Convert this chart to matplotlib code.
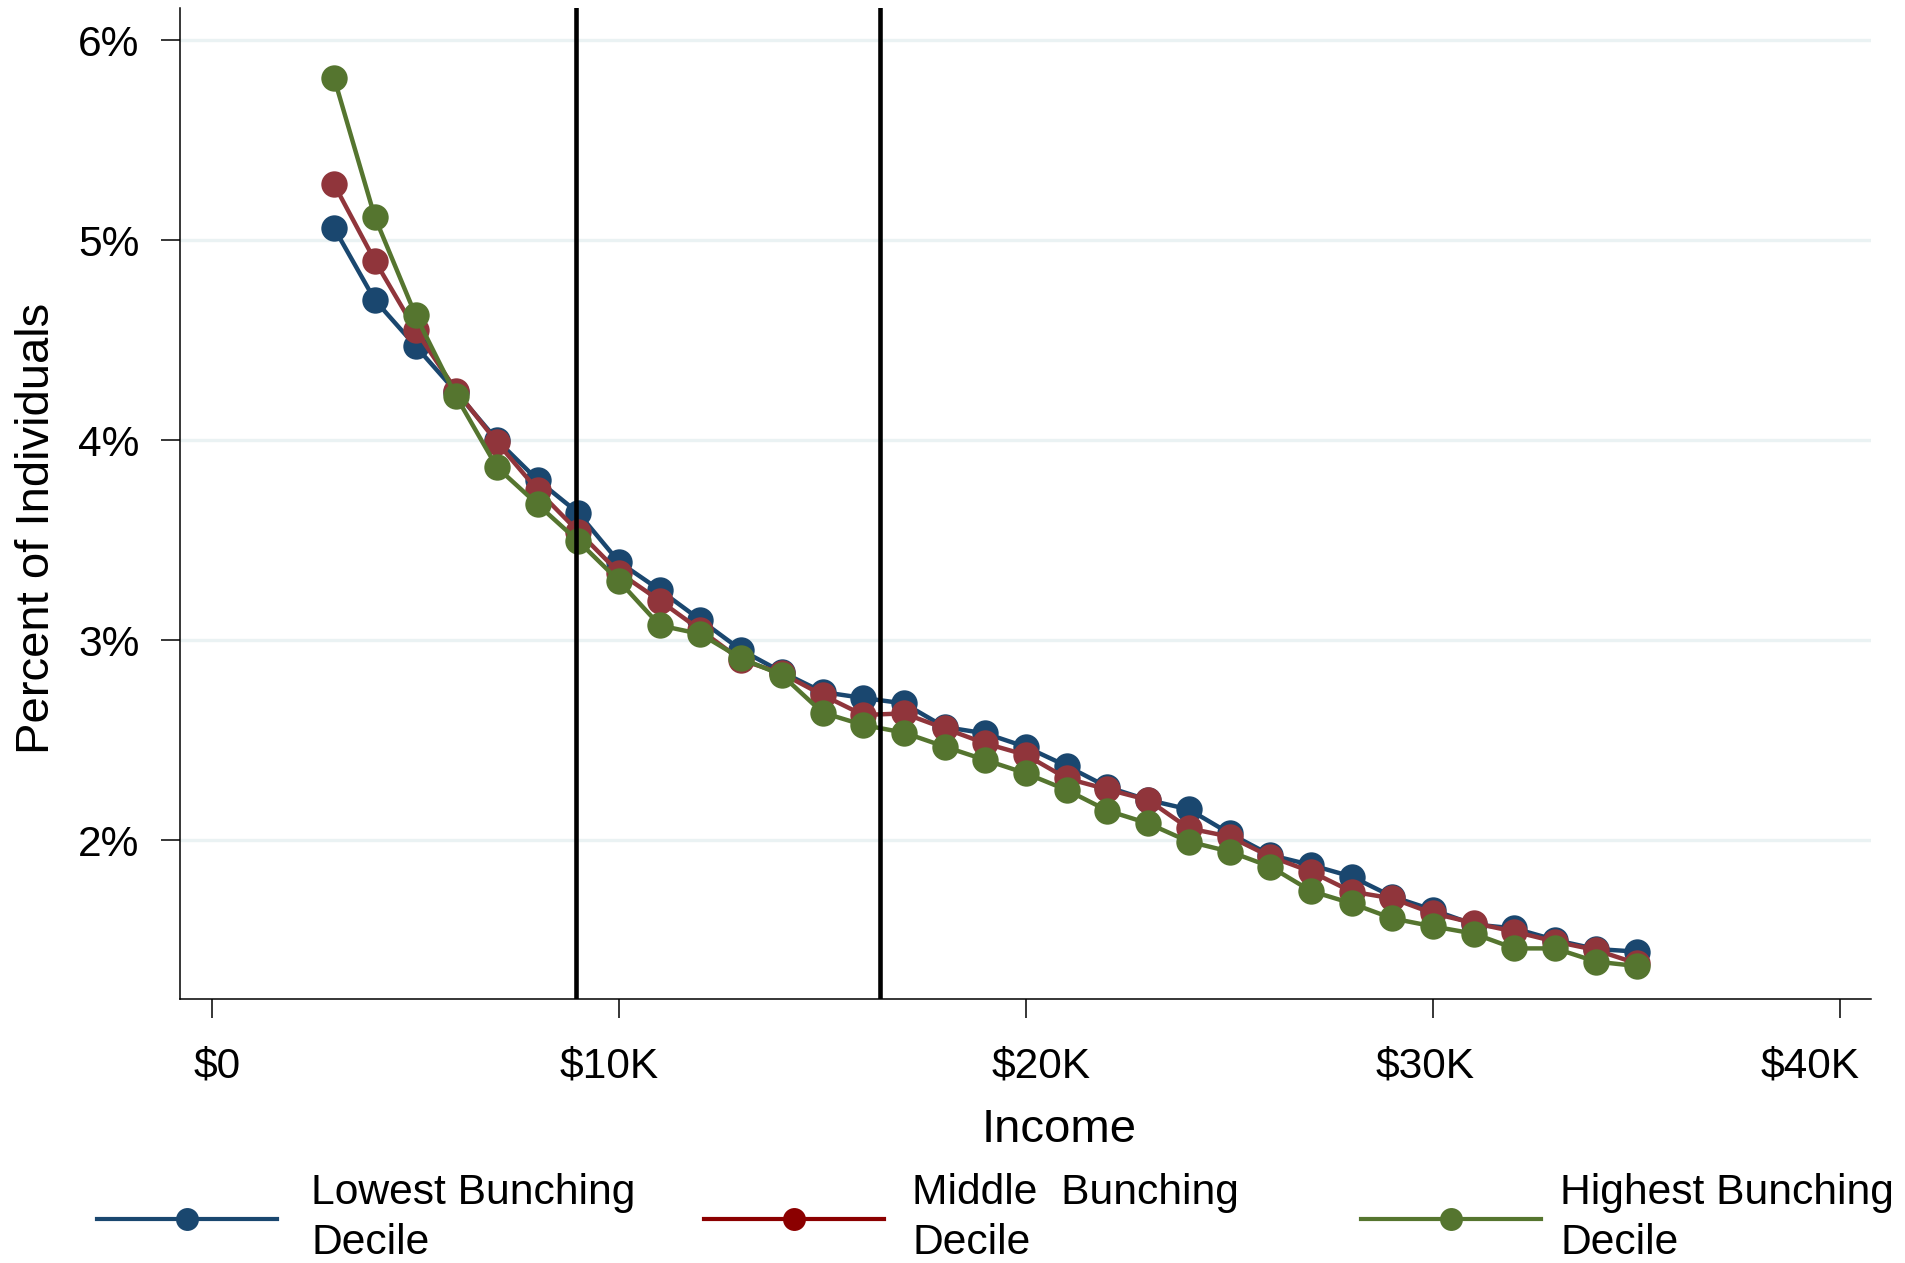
import matplotlib
matplotlib.use("Agg")
import matplotlib.pyplot as plt
from matplotlib.ticker import FuncFormatter
from matplotlib.lines import Line2D
from matplotlib.transforms import ScaledTranslation

plt.rcParams['font.family'] = ['Liberation Sans', 'DejaVu Sans']

# Income bins (dollars)
income = [3000, 4000, 5000, 6000, 7000, 8000, 9000, 10000, 11000, 12000, 13000,
          14000, 15000, 16000, 17000, 18000, 19000, 20000, 21000, 22000, 23000,
          24000, 25000, 26000, 27000, 28000, 29000, 30000, 31000, 32000, 33000,
          34000, 35000]

# Percent of individuals in each income bin, by bunching decile
lowest = [5.06, 4.70, 4.47, 4.24, 4.00, 3.80, 3.635, 3.39, 3.25, 3.10, 2.95,
          2.84, 2.74, 2.71, 2.683, 2.565, 2.533, 2.465, 2.37, 2.265, 2.20,
          2.153, 2.033, 1.925, 1.875, 1.817, 1.717, 1.65, 1.578, 1.558, 1.50,
          1.455, 1.442]
middle = [5.278, 4.897, 4.55, 4.247, 3.989, 3.749, 3.542, 3.337, 3.197, 3.05, 2.90,
          2.833, 2.725, 2.625, 2.633, 2.558, 2.483, 2.425, 2.308, 2.253, 2.20,
          2.058, 2.017, 1.917, 1.842, 1.742, 1.708, 1.633, 1.585, 1.542, 1.492,
          1.45, 1.383]
highest = [5.81, 5.115, 4.625, 4.218, 3.864, 3.678, 3.494, 3.295, 3.073, 3.03, 2.908,
           2.825, 2.637, 2.575, 2.537, 2.467, 2.40, 2.333, 2.25, 2.147, 2.083,
           1.992, 1.942, 1.867, 1.745, 1.683, 1.608, 1.568, 1.532, 1.458, 1.458,
           1.392, 1.37]

series_labels = ["Lowest Bunching\nDecile", "Middle  Bunching\nDecile",
                 "Highest Bunching\nDecile"]
series_colors = ["#1a476f", "#90353b", "#55752f"]
key_colors = ["#1a476f", "#8b0000", "#55752f"]

# EITC schedule kinks (plateau start, phase-out start)
kinks = [8950, 16420]

x_ticks = [0, 10000, 20000, 30000, 40000]
y_ticks = [2, 3, 4, 5, 6]

W, H = 1905, 1263
fig = plt.figure(figsize=(W / 100, H / 100), dpi=100)
ax = fig.add_axes([180 / W, 1 - 999 / H, (1871 - 180) / W, (999 - 8) / H])

for ys, col in zip([lowest, middle, highest], series_colors):
    ax.plot(income, ys, color=col, lw=3.2, marker='o', markersize=19,
            markeredgewidth=0, zorder=3)

for k in kinks:
    ax.axvline(k, color='black', lw=3.3, zorder=5)

ax.set_xlim(-786, 40760)
ax.set_ylim(1.205, 6.16)

ax.set_xticks(x_ticks)
ax.set_yticks(y_ticks)
ax.xaxis.set_major_formatter(FuncFormatter(
    lambda v, p: "$0" if v == 0 else "${:d}K".format(int(round(v / 1000)))))
ax.yaxis.set_major_formatter(FuncFormatter(lambda v, p: "{:d}%".format(int(round(v)))))

ax.tick_params(axis='both', labelsize=30.6, length=14, width=1.1, color='black',
               direction='out')
ax.tick_params(axis='x', pad=20)
ax.tick_params(axis='y', pad=15)

# small horizontal nudges of the income labels (pixels)
x_label_nudge = [5, -10, 15, -8, -30]
for lab, dx in zip(ax.get_xticklabels(), x_label_nudge):
    lab.set_transform(lab.get_transform() +
                      ScaledTranslation(dx / 100, 0, fig.dpi_scale_trans))

ax.grid(axis='y', color='#eaf2f3', lw=2.4)
ax.grid(axis='x', visible=False)
ax.set_axisbelow(True)

for side in ['top', 'right']:
    ax.spines[side].set_visible(False)
for side in ['left', 'bottom']:
    ax.spines[side].set_color('black')
    ax.spines[side].set_linewidth(1.1)

ax.set_xlabel("Income", fontsize=34, va='baseline')
ax.xaxis.set_label_coords(0.52, -(1142 - 999) / (999 - 8))
ax.set_ylabel("Percent of Individuals", fontsize=34, va='baseline')
ax.yaxis.set_label_coords((48.6 - 180) / (1871 - 180), (999 - 528) / (999 - 8))

# One key per entry, placed along the bottom
legend_x = [97, 704, 1361]
legend_textpad = [0.80, 0.66, 0.45]
for col, lab, lx, tp in zip(key_colors, series_labels, legend_x, legend_textpad):
    key = Line2D([], [], color=col, lw=3.0, marker='o', markersize=16.5,
                 markeredgewidth=0)
    fig.legend(handles=[key], labels=[lab], loc='center left',
               bbox_to_anchor=(lx / W, 1 - 1218 / H), frameon=False,
               borderpad=0, borderaxespad=0, handlelength=4.22,
               handletextpad=tp, prop={'size': 30.7})
    fig.legends[-1].get_texts()[0].set_linespacing(1.34)

fig.savefig("out.png", dpi=100, facecolor='white')
